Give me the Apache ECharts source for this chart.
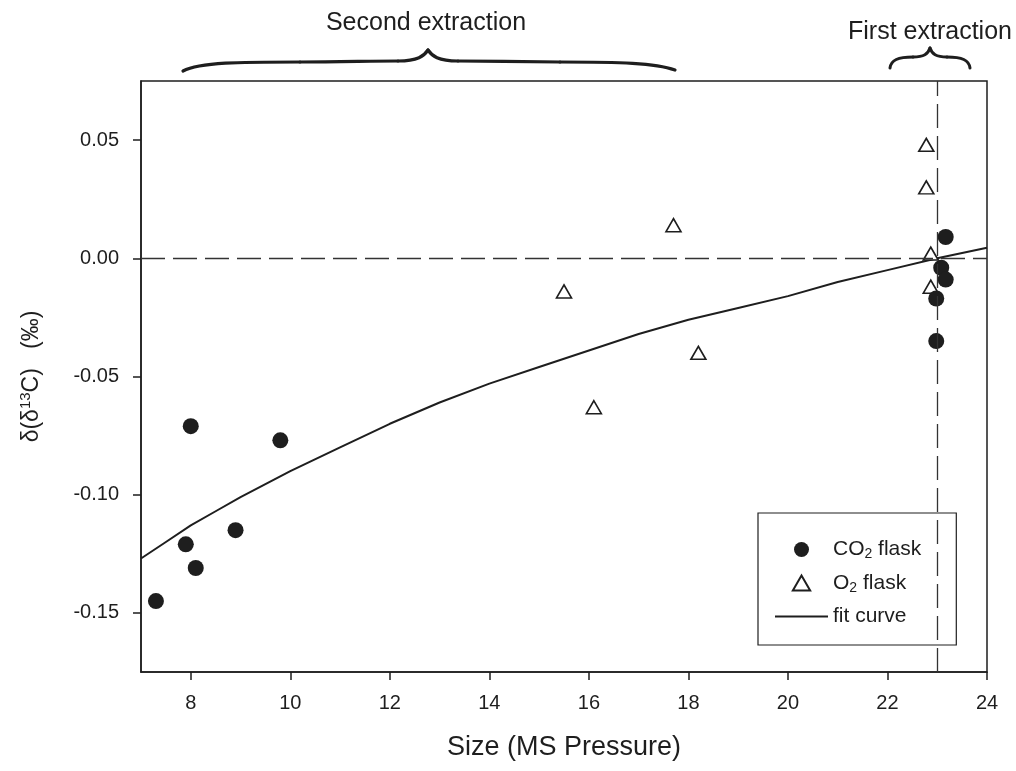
<!DOCTYPE html>
<html>
<head>
<meta charset="utf-8">
<script src="https://cdn.jsdelivr.net/npm/echarts@6/dist/echarts.min.js"></script>
<style>
html,body{margin:0;padding:0;background:#fff;}
#chart{width:1016px;height:771px;}
</style>
</head>
<body>
<div id="chart"></div>
<script>
// ---- data ----
var co2X = [7.3, 7.9, 8.0, 8.1, 8.9, 9.8, 22.98, 22.98, 23.08, 23.17, 23.17];
var co2Y = [-0.145, -0.121, -0.071, -0.131, -0.115, -0.077, -0.035, -0.017, -0.004, -0.009, 0.009];
var o2X = [15.5, 16.1, 17.7, 18.2, 22.78, 22.78, 22.87, 22.87];
var o2Y = [-0.014, -0.063, 0.014, -0.040, 0.048, 0.030, 0.002, -0.012];
var fitX = [7, 7.5, 8, 8.5, 9, 10, 11, 12, 13, 14, 15, 16, 17, 18, 19, 20, 21, 22, 23, 24];
var fitY = [-0.127, -0.120, -0.113, -0.107, -0.101, -0.090, -0.080, -0.070, -0.061, -0.053, -0.046, -0.039, -0.032, -0.026, -0.021, -0.016, -0.010, -0.005, 0.000, 0.0045];
var xTicks = [8, 10, 12, 14, 16, 18, 20, 22, 24];
var yTicks = [-0.15, -0.10, -0.05, 0.00, 0.05];
var refX = 23.0;
var refY = 0.0;

function zip(a, b) { return a.map(function (v, i) { return [v, b[i]]; }); }

var chart = echarts.init(document.getElementById('chart'), null, {renderer: 'canvas'});
var font = 'Liberation Sans, Arial, sans-serif';
var ink = '#1e1e1e';

function bez(x1, y1, c1x, c1y, c2x, c2y, x2, y2, w) {
  return {type: 'bezierCurve', silent: true,
    shape: {x1: x1, y1: y1, cpx1: c1x, cpy1: c1y, cpx2: c2x, cpy2: c2y, x2: x2, y2: y2},
    style: {fill: null, stroke: ink, lineWidth: w, lineCap: 'round'}};
}

var option = {
  backgroundColor: '#fff',
  animation: false,
  textStyle: {fontFamily: font, color: ink},
  grid: {left: 141, right: 29, top: 81, bottom: 99, show: true, borderColor: ink, borderWidth: 1.5, backgroundColor: 'transparent'},
  xAxis: {
    type: 'value', min: 7, max: 24,
    name: 'Size (MS Pressure)', nameLocation: 'middle', nameGap: 62,
    nameTextStyle: {fontSize: 27, color: ink, fontFamily: font},
    axisLine: {show: true, onZero: false, lineStyle: {color: ink, width: 1.5}},
    axisTick: {show: true, inside: false, length: 8, customValues: xTicks, lineStyle: {color: ink, width: 1.5}},
    axisLabel: {show: true, customValues: xTicks, fontSize: 20, color: ink, margin: 21, fontFamily: font},
    splitLine: {show: false}
  },
  yAxis: {
    type: 'value', min: -0.175, max: 0.075,
    name: 'δ(δ{sup|13}C)   (‰)', nameLocation: 'middle', nameGap: 96, nameRotate: 90,
    nameTextStyle: {fontSize: 23, color: ink, fontFamily: font,
      rich: {sup: {fontSize: 15, color: ink, fontFamily: font, padding: [0, 0, 12, 0]}}},
    axisLine: {show: true, onZero: false, lineStyle: {color: ink, width: 1.5}},
    axisTick: {show: true, inside: false, length: 8, customValues: yTicks, lineStyle: {color: ink, width: 1.5}},
    axisLabel: {show: true, customValues: yTicks, fontSize: 20, color: ink, margin: 22, fontFamily: font,
      formatter: function (v) { return v.toFixed(2); }},
    splitLine: {show: false}
  },
  legend: {
    orient: 'vertical', left: 758, top: 513,
    padding: [26, 35, 18, 17],
    itemWidth: 53, itemHeight: 15, itemGap: 11,
    symbolKeepAspect: true,
    borderColor: ink, borderWidth: 1.2, backgroundColor: '#fff',
    data: [
      {name: 'CO2 flask', icon: 'circle'},
      {name: 'O2 flask', icon: 'path://M7.5,0 L15,13 L0,13 Z'},
      {name: 'fit curve', icon: 'path://M0,0 L53,0 L53,2 L0,2 Z'}
    ],
    formatter: function (n) {
      if (n === 'CO2 flask') return '{n|CO}{s|2}{n| flask}';
      if (n === 'O2 flask') return '{n|O}{s|2}{n| flask}';
      return '{n|fit curve}';
    },
    textStyle: {color: ink, fontFamily: font, fontSize: 21,
      rich: {n: {fontSize: 21, color: ink, fontFamily: font},
             s: {fontSize: 14, color: ink, fontFamily: font, padding: [10, 0, 0, 0]}}}
  },
  series: [
    {
      name: 'fit curve', type: 'line', data: zip(fitX, fitY), smooth: false,
      showSymbol: false, symbol: 'none',
      itemStyle: {color: ink},
      lineStyle: {color: ink, width: 2, join: 'round'}, z: 2,
      markLine: {
        silent: true, symbol: ['none', 'none'], label: {show: false},
        lineStyle: {color: '#333', width: 1.3, type: [24, 8]},
        data: [{xAxis: refX}, {yAxis: refY}]
      }
    },
    {
      name: 'CO2 flask', type: 'scatter', data: zip(co2X, co2Y),
      symbol: 'circle', symbolSize: 16,
      itemStyle: {color: ink, opacity: 1}, z: 4
    },
    {
      name: 'O2 flask', type: 'scatter', data: zip(o2X, o2Y),
      symbol: 'triangle', symbolSize: [15, 13],
      itemStyle: {color: '#fff', borderColor: ink, borderWidth: 1.6, opacity: 1}, z: 3
    }
  ],
  graphic: [
    {type: 'text', silent: true, style: {text: 'Second extraction', x: 426, y: 23, align: 'center', verticalAlign: 'middle', fontSize: 25, fontFamily: font, fill: ink}},
    {type: 'text', silent: true, style: {text: 'First extraction', x: 930, y: 32, align: 'center', verticalAlign: 'middle', fontSize: 25, fontFamily: font, fill: ink}},
    bez(183, 71, 200, 62, 240, 62, 300, 62, 3.2),
    bez(300, 62, 340, 62, 370, 61, 398, 61, 3.2),
    bez(398, 61, 418, 61, 424, 56, 428, 50, 3.2),
    bez(428, 50, 432, 56, 438, 61, 458, 61, 3.2),
    bez(458, 61, 490, 61, 530, 62, 560, 62, 3.2),
    bez(560, 62, 620, 62, 655, 63, 675, 70, 3.2),
    bez(890, 68, 891, 60, 898, 57, 913, 57, 3),
    bez(913, 57, 924, 57, 928, 54, 930, 48, 3),
    bez(930, 48, 932, 54, 936, 57, 947, 57, 3),
    bez(947, 57, 962, 57, 969, 60, 970, 68, 3)
  ]
};
chart.setOption(option);
</script>
</body>
</html>
